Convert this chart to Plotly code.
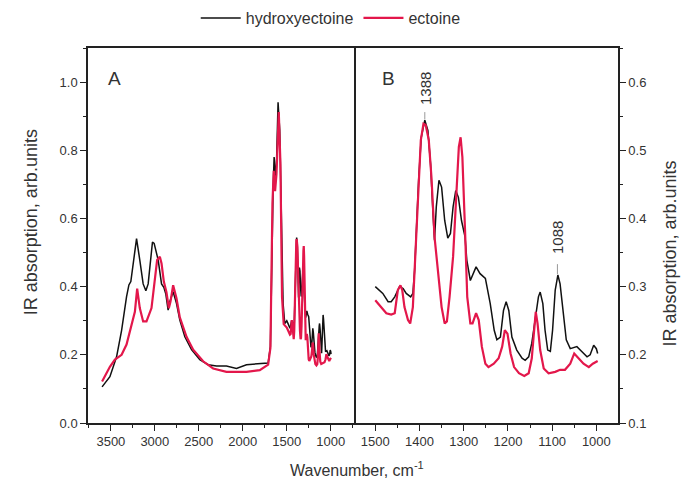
import plotly.graph_objects as go

# ---------------- data ----------------
hydroxy_wn = [3600, 3511, 3435, 3378, 3322, 3295, 3273, 3239, 3208, 3171, 3133, 3102, 3076,
              3027, 3008, 2962, 2924, 2898, 2875, 2849, 2830, 2792, 2754, 2716, 2659, 2583,
              2489, 2394, 2299, 2186, 2072, 1958, 1807, 1712, 1686, 1667, 1655, 1644, 1625,
              1617, 1599, 1580, 1561, 1542, 1523,
              1500, 1483, 1471, 1464, 1456, 1445, 1437, 1430, 1420, 1415, 1411, 1407, 1402,
              1396, 1388, 1381, 1375, 1369, 1366, 1362, 1356, 1350, 1343, 1336, 1330, 1324,
              1318, 1312, 1305, 1297, 1293, 1285, 1278, 1272, 1263, 1251, 1240, 1231, 1225,
              1217, 1210, 1204, 1198, 1191, 1180, 1168, 1161, 1153, 1146, 1138, 1131, 1127,
              1121, 1116, 1110, 1104, 1099, 1093, 1087, 1082, 1074, 1068, 1059, 1044, 1033,
              1021, 1014, 1006, 1000, 997]
hydroxy_abs = [0.106, 0.136, 0.194, 0.272, 0.370, 0.405, 0.415, 0.487, 0.541, 0.478, 0.408, 0.388, 0.408,
               0.531, 0.527, 0.478, 0.408, 0.398, 0.378, 0.331, 0.356, 0.385, 0.351, 0.302, 0.253, 0.215,
               0.186, 0.171, 0.167, 0.167, 0.160, 0.171, 0.174, 0.176, 0.225, 0.546, 0.690, 0.780, 0.720,
               0.760, 0.941, 0.858, 0.566, 0.351, 0.292,
               0.300, 0.290, 0.278, 0.278, 0.285, 0.300, 0.297, 0.290, 0.285, 0.290, 0.324, 0.383, 0.456,
               0.519, 0.544, 0.529, 0.480, 0.402, 0.368, 0.417, 0.456, 0.446, 0.397, 0.371, 0.378, 0.417,
               0.441, 0.431, 0.397, 0.373, 0.339, 0.309, 0.321, 0.329, 0.319, 0.312, 0.275, 0.236, 0.222,
               0.226, 0.265, 0.278, 0.265, 0.226, 0.207, 0.195, 0.192, 0.197, 0.217, 0.256, 0.285, 0.292,
               0.275, 0.236, 0.207, 0.205, 0.236, 0.295, 0.317, 0.304, 0.261, 0.222, 0.209, 0.212, 0.205,
               0.197, 0.200, 0.214, 0.209, 0.202]

ectoine_wn = [3600, 3511, 3454, 3378, 3322, 3284, 3254, 3227, 3201, 3171, 3133, 3095, 3038,
              3000, 2974, 2943, 2924, 2898, 2868, 2841, 2822, 2792, 2754, 2716, 2640, 2564,
              2451, 2337, 2186, 1958, 1807, 1712, 1686, 1663, 1648, 1633, 1617, 1591, 1572,
              1554, 1535,
              1500, 1487, 1475, 1464, 1456, 1449, 1443, 1439, 1434, 1426, 1421, 1415, 1409,
              1403, 1397, 1391, 1386, 1379, 1373, 1366, 1358, 1350, 1343, 1338, 1332, 1324,
              1317, 1311, 1307, 1303, 1297, 1292, 1285, 1280, 1272, 1266, 1259, 1251, 1244,
              1232, 1221, 1213, 1207, 1201, 1194, 1186, 1175, 1163, 1153, 1146, 1142, 1137,
              1133, 1127, 1119, 1108, 1093, 1082, 1071, 1059, 1050, 1040, 1029, 1017, 1008, 997]
ectoine_abs = [0.122, 0.165, 0.186, 0.200, 0.230, 0.270, 0.294, 0.326, 0.394, 0.337, 0.298, 0.298, 0.337,
               0.415, 0.478, 0.488, 0.468, 0.415, 0.384, 0.337, 0.356, 0.404, 0.366, 0.310, 0.253, 0.215,
               0.181, 0.160, 0.150, 0.150, 0.155, 0.171, 0.220, 0.644, 0.740, 0.680, 0.730, 0.912, 0.760,
               0.370, 0.290,
               0.280, 0.270, 0.261, 0.259, 0.261, 0.295, 0.302, 0.295, 0.270, 0.251, 0.246, 0.270, 0.358,
               0.441, 0.515, 0.539, 0.537, 0.515, 0.461, 0.373, 0.324, 0.270, 0.246, 0.249, 0.285, 0.344,
               0.431, 0.505, 0.519, 0.490, 0.383, 0.285, 0.246, 0.246, 0.261, 0.251, 0.212, 0.187, 0.182,
               0.187, 0.195, 0.212, 0.236, 0.231, 0.202, 0.182, 0.173, 0.169, 0.173, 0.195, 0.226, 0.263,
               0.246, 0.207, 0.180, 0.173, 0.175, 0.178, 0.178, 0.187, 0.202, 0.195, 0.187, 0.182, 0.187, 0.191]

series_names = ["hydroxyectoine", "ectoine"]
series_colors = ["#111111", "#e3174b"]
series_widths = [1.5, 2.2]

x_ticks_a = [3500, 3000, 2500, 2000, 1500, 1000]
x_ticks_b = [1500, 1400, 1300, 1200, 1100, 1000]
zoom_max_wn = 1500          # panel B shows the 1500-1000 cm-1 part of the spectra
peak_labels = [1388, 1088]

FONT = "Liberation Sans, Arial, sans-serif"
TXT = "#333333"
AX = "#222222"

fig = go.Figure()
series = [(hydroxy_wn, hydroxy_abs), (ectoine_wn, ectoine_abs)]
for (xs, ys), name, col, w in zip(series, series_names, series_colors, series_widths):
    fig.add_trace(go.Scatter(x=xs, y=ys, mode="lines", name=name, legendgroup=name,
                             line=dict(color=col, width=w), xaxis="x", yaxis="y"))
    pairs = [(x, y) for x, y in zip(xs, ys) if x <= zoom_max_wn]
    fig.add_trace(go.Scatter(x=[p[0] for p in pairs], y=[p[1] for p in pairs], mode="lines",
                             name=name, legendgroup=name, showlegend=False,
                             line=dict(color=col, width=w), xaxis="x2", yaxis="y2"))

common_axis = dict(showline=True, linecolor=AX, linewidth=1.5, ticks="outside",
                   ticklen=6, tickwidth=1.3, tickcolor=AX, showgrid=False, zeroline=False,
                   automargin=False,
                   tickfont=dict(family=FONT, size=13, color=TXT))

# the page body adds an 8px offset, so the figure is 8px smaller and margins shifted
fig.update_layout(
    width=685, height=479,
    margin=dict(l=80, r=75, t=40, b=64, autoexpand=False),
    paper_bgcolor="white", plot_bgcolor="white",
    font=dict(family=FONT, color=TXT),
    xaxis=dict(domain=[0, 0.502], range=[3760, 735], tickvals=x_ticks_a, mirror=True,
               minor=dict(ticks="outside", dtick=250, tick0=1000, ticklen=3, tickwidth=1.2,
                          tickcolor=AX, showgrid=False),
               anchor="y", **common_axis),
    yaxis=dict(domain=[0, 1], range=[0, 1.1], dtick=0.2, tickformat=".1f", mirror=True,
               minor=dict(ticks="outside", dtick=0.1, ticklen=3, tickwidth=1.2,
                          tickcolor=AX, showgrid=False),
               anchor="x", **common_axis),
    xaxis2=dict(domain=[0.502, 1], range=[1548, 951], tickvals=x_ticks_b, mirror=True,
                minor=dict(ticks="outside", dtick=50, tick0=1000, ticklen=3, tickwidth=1.2,
                           tickcolor=AX, showgrid=False),
                anchor="y2", **common_axis),
    yaxis2=dict(domain=[0, 1], range=[0.1, 0.65], dtick=0.1, tickformat=".1f", side="right",
                mirror=False,
                minor=dict(ticks="outside", dtick=0.05, ticklen=3, tickwidth=1.2,
                           tickcolor=AX, showgrid=False),
                anchor="x2", **common_axis),
    legend=dict(orientation="h", x=0.458, xanchor="center", y=0.979, yanchor="middle",
                yref="container",
                font=dict(family=FONT, size=16, color=TXT), bgcolor="rgba(0,0,0,0)",
                itemwidth=40),
    showlegend=True,
)

annotations = [
    dict(text="Wavenumber, cm<sup>-1</sup>", xref="paper", yref="paper", x=0.507, y=-0.123,
         showarrow=False, font=dict(size=16, family=FONT, color=TXT), xanchor="center", yanchor="middle"),
    dict(text="IR absorption, arb.units", xref="paper", yref="paper", x=-0.106, y=0.535,
         textangle=-90, showarrow=False, font=dict(size=18, family=FONT, color=TXT),
         xanchor="center", yanchor="middle"),
    dict(text="IR absorption, arb.units", xref="paper", yref="paper", x=1.099, y=0.453,
         textangle=-90, showarrow=False, font=dict(size=18, family=FONT, color=TXT),
         xanchor="center", yanchor="middle"),
    dict(text="A", xref="x", yref="y", x=3458, y=1.01, showarrow=False,
         font=dict(size=19, family=FONT, color=TXT), xanchor="center", yanchor="middle"),
    dict(text="B", xref="x2", yref="y2", x=1470, y=0.605, showarrow=False,
         font=dict(size=19, family=FONT, color=TXT), xanchor="center", yanchor="middle"),
    dict(text=str(peak_labels[0]), xref="x2", yref="y2", x=peak_labels[0], y=0.591, textangle=-90,
         showarrow=False, font=dict(size=15, family=FONT, color=TXT), xanchor="center", yanchor="middle"),
    dict(text=str(peak_labels[1]), xref="x2", yref="y2", x=peak_labels[1], y=0.372, textangle=-90,
         showarrow=False, font=dict(size=15, family=FONT, color=TXT), xanchor="center", yanchor="middle"),
]
fig.update_layout(annotations=annotations)

shapes = [
    dict(type="line", xref="x2", yref="y2", x0=peak_labels[0], x1=peak_labels[0], y0=0.545, y1=0.556,
         line=dict(color="#999999", width=1)),
    dict(type="line", xref="x2", yref="y2", x0=peak_labels[1], x1=peak_labels[1], y0=0.318, y1=0.333,
         line=dict(color="#999999", width=1)),
]
fig.update_layout(shapes=shapes)

fig.write_html("out.html")
